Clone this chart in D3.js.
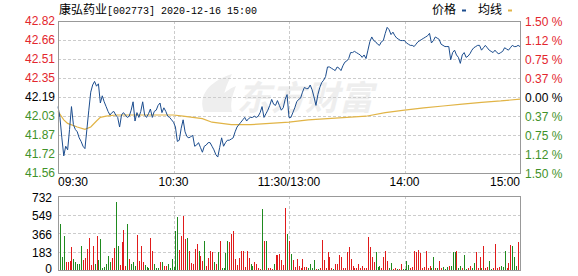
<!DOCTYPE html>
<html>
<head>
<meta charset="utf-8">
<script src="https://cdn.jsdelivr.net/npm/d3@7"></script>
<style>
	body { margin: 0; background: #fff; }
	svg { display: block; }
	text { font-family: "Liberation Sans", Arial, sans-serif; font-size: 12px; }
</style>
</head>
<body>
<div id="chart"></div>
<script>
(function () {
	"use strict";

	var WIDTH = 578;
	var HEIGHT = 276;
	var LEFT = 58;
	var RIGHT = 520;
	var PRICE_TOP = 21;
	var PRICE_BOTTOM = 173;
	var VOLUME_TOP = 196;
	var VOLUME_BOTTOM = 270;

	var RED = '#e3262d';
	var GREEN = '#3f922a';
	var GRID = '#cccccc';
	var BORDER = '#999999';

	// header
	var stockName = '康弘药业';
	var stockInfo = '[002773] 2020-12-16 15:00';
	var legendNames = ['价格', '均线'];

	// axes
	var prevClose = 42.19;
	var limitPercent = 0.015;
	var priceLabels = ['42.82', '42.66', '42.51', '42.35', '42.19', '42.03', '41.87', '41.72', '41.56'];
	var percentLabels = ['1.50 %', '1.12 %', '0.75 %', '0.37 %', '0.00 %', '0.37 %', '0.75 %', '1.12 %', '1.50 %'];
	var volumeMax = 732;
	var volumeLabels = [732, 549, 366, 183, 0];
	var timeLabels = ['09:30', '10:30', '11:30/13:00', '14:00', '15:00'];
	var timeMinutes = [0, 60, 120, 180, 240];

	// one price per minute, 09:30 .. 11:30, 13:01 .. 15:00
	var prices = [
		42.11, 42.02, 41.85, 41.70, 41.78, 41.75, 41.92, 42.11, 41.96, 41.92,
		41.90, 41.85, 41.82, 41.78, 41.76, 41.92, 42.08, 42.23, 42.29, 42.32,
		42.28, 42.30, 42.14, 42.20, 42.15, 42.11, 42.07, 42.04, 42.06, 42.07,
		42.04, 42.02, 41.94, 42.04, 42.06, 42.04, 42.02, 42.03, 42.08, 42.15,
		41.99, 42.06, 42.02, 42.07, 42.15, 42.04, 42.02, 42.05, 42.09, 42.02,
		42.07, 42.08, 42.12, 42.14, 42.06, 42.10, 42.07, 42.03, 42.02, 42.00,
		41.98, 41.94, 41.82, 41.83, 41.93, 42.00, 41.90, 41.86, 41.85, 41.86,
		41.87, 41.78, 41.79, 41.81, 41.77, 41.73, 41.78, 41.79, 41.81, 41.81,
		41.78, 41.75, 41.71, 41.69, 41.77, 41.85, 41.78, 41.81, 41.83, 41.83,
		41.84, 41.85, 41.90, 41.94, 41.96, 41.98, 42.00, 42.02, 41.99, 42.01,
		42.02, 42.02, 42.03, 42.02, 42.03, 42.06, 42.11, 42.02, 42.05, 42.08,
		42.12, 42.17, 42.13, 42.12, 42.16, 42.12, 42.08, 42.10, 42.17, 42.21,
		42.02, 42.02, 42.06, 42.10, 42.15, 42.17, 42.18, 42.23, 42.27, 42.26,
		42.26, 42.29, 42.25, 42.19, 42.12, 42.21, 42.27, 42.31, 42.33, 42.36,
		42.44, 42.44, 42.43, 42.42, 42.41, 42.44, 42.43, 42.41, 42.45, 42.48,
		42.49, 42.51, 42.56, 42.56, 42.57, 42.56, 42.55, 42.54, 42.52, 42.54,
		42.51, 42.58, 42.65, 42.69, 42.66, 42.65, 42.63, 42.62, 42.65, 42.66,
		42.72, 42.77, 42.75, 42.71, 42.73, 42.70, 42.68, 42.67, 42.66, 42.66,
		42.66, 42.64, 42.63, 42.62, 42.62, 42.61, 42.63, 42.65, 42.66, 42.67,
		42.68, 42.69, 42.70, 42.72, 42.64, 42.66, 42.69, 42.68, 42.67, 42.63,
		42.62, 42.61, 42.61, 42.61, 42.50, 42.56, 42.58, 42.54, 42.52, 42.47,
		42.54, 42.56, 42.52, 42.53, 42.55, 42.58, 42.60, 42.61, 42.62, 42.62,
		42.58, 42.60, 42.62, 42.60, 42.58, 42.57, 42.56, 42.58, 42.56, 42.55,
		42.56, 42.57, 42.60, 42.59, 42.58, 42.60, 42.62, 42.61, 42.61, 42.62,
		42.61
	];

	var avgMinutes = [0, 3, 5, 10, 14, 17, 20, 22, 25, 30, 40, 50, 60, 65, 70, 75, 80, 85, 90, 95, 100,
		110, 120, 130, 140, 150, 160, 170, 180, 190, 200, 210, 220, 230, 240];
	var avgPrices = [42.07, 42.00, 41.97, 41.94, 41.92, 41.94, 41.99, 42.02, 42.03, 42.04, 42.04, 42.04,
		42.04, 42.03, 42.02, 42.01, 41.98, 41.97, 41.96, 41.96, 41.96, 41.97, 41.98, 42.00, 42.01, 42.02,
		42.03, 42.06, 42.08, 42.10, 42.115, 42.13, 42.145, 42.157, 42.173];

	var volumes = [
		60, 458, 130, 341, 80, 75, 90, 231, 105, 75,
		60, 60, 241, 100, 120, 207, 318, 50, 241, 60,
		341, 100, 308, 20, 30, 60, 140, 75, 120, 220,
		675, 241, 50, 281, 391, 40, 458, 105, 60, 75,
		40, 351, 90, 241, 75, 50, 30, 20, 315, 190,
		55, 20, 20, 75, 80, 40, 35, 55, 15, 110,
		25, 381, 525, 200, 341, 532, 308, 318, 190, 70,
		55, 207, 258, 190, 140, 90, 284, 40, 115, 190,
		175, 75, 60, 175, 291, 15, 15, 170, 291, 274,
		358, 384, 105, 50, 120, 190, 190, 30, 190, 120,
		55, 40, 75, 60, 15, 10, 601, 284, 291, 15,
		15, 10, 55, 150, 145, 160, 100, 50, 615, 358, 291,
		157, 100, 30, 113, 40, 15, 113, 30, 25, 15,
		57, 20, 100, 10, 10, 15, 301, 100, 20, 174,
		124, 20, 10, 57, 57, 150, 124, 20, 24, 180,
		231, 107, 40, 20, 24, 57, 20, 40, 15, 15,
		324, 231, 124, 80, 174, 30, 40, 15, 124, 191,
		90, 15, 74, 10, 15, 10, 10, 57, 10, 10,
		90, 47, 15, 30, 191, 174, 200, 165, 20, 30,
		191, 20, 35, 15, 124, 20, 15, 90, 15, 30,
		10, 30, 40, 40, 174, 174, 191, 15, 40, 15,
		150, 10, 15, 40, 15, 74, 174, 15, 124, 15,
		241, 15, 30, 90, 10, 20, 258, 15, 30, 40,
		30, 191, 15, 74, 248, 241, 124, 40, 281, 415
	];

	// R = bar drawn red, G = bar drawn green
	var volumeSides = (
		'GGGGRRRRGG' + 'GGGRRRRRRG' + 'RGGGGGGGRR' + 'GGRRRRGRGG' + 'GRRRRGGGRR' + 'GGGRGRRGGG' +
		'GGGRRRRGRR' + 'RRRGRRGRRR' + 'RGRGRGGGGR' + 'RRRRRRRRRR' + 'GGRRRRGRGR' + 'RRGRRRRRRGR' +
		'GRRRRRRRRG' + 'GGGRGRRRRR' + 'RRGRRRRRRR' + 'RRRRRRRRRR' + 'RRRRGGGRRR' + 'RGGRRGRRGG' +
		'GGRRRRRRRR' + 'RRRGGRGRRG' + 'GGRGGGRGGR' + 'GGRRGGRRRG' + 'RRRGGRRRRG' + 'GGRRRGGGRR'
	).split('');

	var svg = d3.select('#chart').append('svg')
		.attr('width', WIDTH)
		.attr('height', HEIGHT);

	var x = d3.scaleLinear().domain([0, 240]).range([LEFT, RIGHT]);
	var y = d3.scaleLinear()
		.domain([prevClose * (1 - limitPercent), prevClose * (1 + limitPercent)])
		.range([PRICE_BOTTOM, PRICE_TOP]);
	var vy = d3.scaleLinear().domain([0, volumeMax]).range([VOLUME_BOTTOM, VOLUME_TOP]);

	var priceLevels = priceLabels.map(function (_, i) {
		return y.domain()[1] - i * (y.domain()[1] - y.domain()[0]) / (priceLabels.length - 1);
	});

	renderHeader();
	renderWatermark();
	renderGrid();
	renderVolume();
	renderLines();
	renderAxes();

	function renderHeader() {
		var title = svg.append('text')
			.attr('x', LEFT + 1)
			.attr('y', 13.5)
			.attr('fill', '#000');
		title.append('tspan')
			.style('font-family', '"Noto Sans CJK SC", sans-serif')
			.style('font-size', '12px')
			.text(stockName);
		title.append('tspan')
			.style('font-family', '"Liberation Mono", monospace')
			.style('font-size', '10px')
			.text(stockInfo);

		var legend = [
			{ name: legendNames[0], x: 432, color: '#1c4d8e' },
			{ name: legendNames[1], x: 478, color: '#e1b446' }
		];
		legend.forEach(function (item) {
			svg.append('text')
				.attr('x', item.x)
				.attr('y', 14)
				.style('font-family', '"Noto Sans CJK SC", sans-serif')
				.style('font-size', '12px')
				.text(item.name);
			svg.append('rect')
				.attr('x', item.x + 30)
				.attr('y', 9.5)
				.attr('width', 4)
				.attr('height', 2)
				.attr('fill', item.color);
		});
	}

	function renderWatermark() {
		var mark = svg.append('g').attr('fill', '#eeeeee');
		mark.append('path')
			.attr('d', 'M204,112 C198,96 208,82 232,74 C226,86 222,96 222,112 Z M214,112 C216,100 222,92 236,86 C232,96 230,104 232,112 Z');
		mark.append('text')
			.attr('x', 237)
			.attr('y', 110)
			.style('font-family', '"Noto Sans CJK SC", sans-serif')
			.style('font-size', '34px')
			.style('font-weight', 'bold')
			.style('font-style', 'italic')
			.text('东方财富');
	}

	function renderGrid() {
		var grid = svg.append('g')
			.attr('stroke', GRID)
			.attr('stroke-dasharray', '3,2')
			.attr('shape-rendering', 'crispEdges');

		grid.selectAll('.price-grid')
			.data(priceLevels.slice(1, -1))
			.enter()
			.append('line')
			.attr('x1', LEFT)
			.attr('x2', RIGHT)
			.attr('y1', function (d) { return Math.round(y(d)) + 0.5; })
			.attr('y2', function (d) { return Math.round(y(d)) + 0.5; });

		grid.selectAll('.volume-grid')
			.data(volumeLabels.slice(1, -1))
			.enter()
			.append('line')
			.attr('x1', LEFT)
			.attr('x2', RIGHT)
			.attr('y1', function (d) { return Math.round(vy(d)) + 0.5; })
			.attr('y2', function (d) { return Math.round(vy(d)) + 0.5; });

		[[PRICE_TOP, PRICE_BOTTOM], [VOLUME_TOP, VOLUME_BOTTOM]].forEach(function (band) {
			grid.selectAll(null)
				.data(timeMinutes.slice(1, -1))
				.enter()
				.append('line')
				.attr('x1', function (d) { return Math.round(x(d)) + 0.5; })
				.attr('x2', function (d) { return Math.round(x(d)) + 0.5; })
				.attr('y1', band[0])
				.attr('y2', band[1]);
		});
	}

	function renderVolume() {
		svg.append('g')
			.attr('shape-rendering', 'crispEdges')
			.selectAll('rect')
			.data(volumes)
			.enter()
			.append('rect')
			.attr('x', function (_, i) { return Math.round(x(i)); })
			.attr('width', 1)
			.attr('y', function (d) { return vy(d); })
			.attr('height', function (d) { return VOLUME_BOTTOM - vy(d); })
			.attr('fill', function (_, i) { return volumeSides[i] === 'R' ? '#e01b1b' : '#1f8a1f'; });
	}

	function renderLines() {
		var avgLine = d3.line()
			.x(function (_, i) { return x(avgMinutes[i]); })
			.y(function (d) { return y(d); });
		svg.append('path')
			.datum(avgPrices)
			.attr('d', avgLine)
			.attr('fill', 'none')
			.attr('stroke', '#e1b446')
			.attr('stroke-width', 1.2);

		var priceLine = d3.line()
			.x(function (_, i) { return x(i); })
			.y(function (d) { return y(d); });
		svg.append('path')
			.datum(prices)
			.attr('d', priceLine)
			.attr('fill', 'none')
			.attr('stroke', '#1c4d8e')
			.attr('stroke-width', 1);
	}

	function labelColor(index) {
		if (index < 4) { return RED; }
		return index === 4 ? '#000' : GREEN;
	}

	function renderAxes() {
		var frame = svg.append('g')
			.attr('fill', 'none')
			.attr('stroke', BORDER)
			.attr('shape-rendering', 'crispEdges');
		frame.append('rect')
			.attr('x', LEFT + 0.5)
			.attr('y', PRICE_TOP + 0.5)
			.attr('width', RIGHT - LEFT)
			.attr('height', PRICE_BOTTOM - PRICE_TOP);
		frame.append('rect')
			.attr('x', LEFT + 0.5)
			.attr('y', VOLUME_TOP + 0.5)
			.attr('width', RIGHT - LEFT)
			.attr('height', VOLUME_BOTTOM - VOLUME_TOP);

		svg.selectAll('.price-label')
			.data(priceLabels)
			.enter()
			.append('text')
			.attr('x', LEFT - 3)
			.attr('y', function (_, i) { return y(priceLevels[i]); })
			.attr('dy', '0.36em')
			.attr('text-anchor', 'end')
			.attr('fill', function (_, i) { return labelColor(i); })
			.text(function (d) { return d; });

		svg.selectAll('.percent-label')
			.data(percentLabels)
			.enter()
			.append('text')
			.attr('x', RIGHT + 5)
			.attr('y', function (_, i) { return y(priceLevels[i]) + 0.5; })
			.attr('dy', '0.36em')
			.attr('fill', function (_, i) { return labelColor(i); })
			.text(function (d) { return d; });

		svg.selectAll('.volume-label')
			.data(volumeLabels)
			.enter()
			.append('text')
			.attr('x', LEFT - 6)
			.attr('y', function (d) { return Math.min(vy(d) + 1.5, VOLUME_BOTTOM - 1); })
			.attr('dy', '0.36em')
			.attr('text-anchor', 'end')
			.attr('fill', '#000')
			.text(function (d) { return d; });

		svg.selectAll('.time-label')
			.data(timeLabels)
			.enter()
			.append('text')
			.attr('x', function (_, i) { return x(timeMinutes[i]); })
			.attr('y', 186)
			.attr('text-anchor', function (_, i) {
				if (i === 0) { return 'start'; }
				return i === timeLabels.length - 1 ? 'end' : 'middle';
			})
			.attr('fill', '#000')
			.text(function (d) { return d; });
	}
}());
</script>
</body>
</html>
